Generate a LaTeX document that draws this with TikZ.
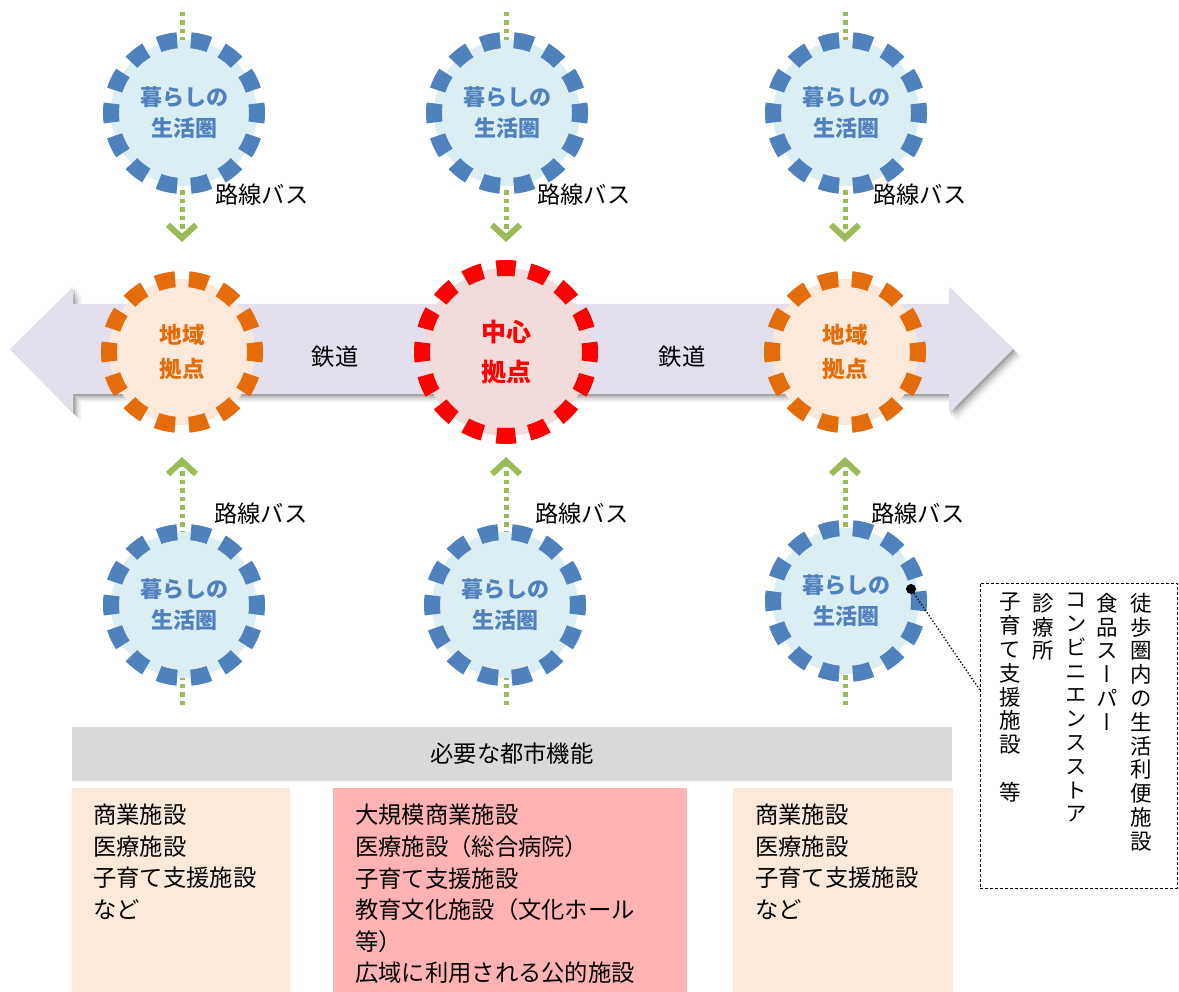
\documentclass[tikz,border=0pt]{standalone}
\usepackage{fontspec}
\setmainfont{Noto Sans CJK JP}
\newfontfamily\vjp[RawFeature=+vert]{Noto Sans CJK JP}
\usetikzlibrary{arrows.meta,calc}
\pgfdeclarelayer{back}
\pgfdeclarelayer{mid}
\pgfsetlayers{back,mid,main}
\definecolor{lifeblue}{HTML}{4F81BD}
\definecolor{lifefill}{HTML}{DAEEF3}
\definecolor{huborange}{HTML}{E46C0A}
\definecolor{hubfill}{HTML}{FDE9D9}
\definecolor{corered}{HTML}{FF0000}
\definecolor{corefill}{HTML}{F2DCDB}
\definecolor{railfill}{HTML}{E4DFEC}
\definecolor{busgreen}{HTML}{9BBB59}
\definecolor{barfill}{HTML}{D9D9D9}
\definecolor{corebox}{HTML}{FFB3B3}
\begin{document}
\begin{tikzpicture}[x=1pt,y=-1pt,
  ring/.style={circle, inner sep=0pt, line width=16pt, align=center},
  lifering/.style={ring, minimum size=146pt, draw=lifeblue, fill=lifefill, text=lifeblue,
    dash pattern=on 19pt off 13.76pt, dash phase=9.5pt, font=\bfseries\fontsize{22}{31}\selectfont},
  hubring/.style={ring, minimum size=146pt, draw=huborange, fill=hubfill, text=huborange,
    dash pattern=on 19pt off 13.76pt, dash phase=9.5pt, font=\bfseries\fontsize{22.5}{34}\selectfont},
  corering/.style={ring, minimum size=168pt, draw=corered, fill=corefill, text=corered,
    dash pattern=on 19pt off 13.99pt, dash phase=9.5pt, font=\bfseries\fontsize{25}{40}\selectfont},
  tagtext/.style={inner sep=0pt, font=\fontsize{23.3}{31}\selectfont},
  busline/.style={draw=busgreen, line width=5pt, dash pattern=on 4.5pt off 4pt,
    -{Straight Barb[length=13pt,width=28pt,line width=6pt]}},
  facbox/.style={rectangle, inner sep=0pt, anchor=north west},
  factext/.style={inner sep=0pt, anchor=north west, align=left, font=\fontsize{23.3}{31.6}\selectfont},
  vcol/.style={inner sep=0pt, anchor=north, align=center, font=\vjp\fontsize{21.5}{23.8}\selectfont}
]
\useasboundingbox (0,0) rectangle (1179,992);

% railway double arrow with soft shadow
\begin{pgfonlayer}{back}
\foreach \o/\op in {8/0.05,6/0.08,4/0.12,2/0.16}{
  \begin{scope}[shift={(\o,\o)}]
    \fill[black,opacity=\op] (10,349) -- (73,287) -- (73,304) -- (949,304) -- (949,287) -- (1013,349)
      -- (949,413) -- (949,394) -- (73,394) -- (73,413) -- cycle;
  \end{scope}}
\fill[railfill] (10,349) -- (73,287) -- (73,304) -- (949,304) -- (949,287) -- (1013,349)
  -- (949,413) -- (949,394) -- (73,394) -- (73,413) -- cycle;
\end{pgfonlayer}

% circles
\node[lifering] (lifeTL) at (184,113) {暮らしの\\生活圏};
\node[lifering] (lifeTM) at (507,113) {暮らしの\\生活圏};
\node[lifering] (lifeTR) at (846,113) {暮らしの\\生活圏};
\node[hubring] (hubL) at (182,352) {地域\\拠点};
\node[corering] (core) at (506,352) {中心\\拠点};
\node[hubring] (hubR) at (845,352) {地域\\拠点};
\node[lifering] (lifeBL) at (184,605) {暮らしの\\生活圏};
\node[lifering] (lifeBM) at (505,605) {暮らしの\\生活圏};
\node[lifering] (lifeBR) at (846,601) {暮らしの\\生活圏};

% bus connectors
\coordinate (srcTL) at (182,12);
\coordinate (srcTM) at (506,12);
\coordinate (srcTR) at (845,12);
\coordinate (srcBL) at (182,705);
\coordinate (srcBM) at (506,705);
\coordinate (srcBR) at (845,705);
\begin{pgfonlayer}{mid}
\draw[busline, shorten >=29pt] (srcTL) -- (hubL);
\draw[busline, shorten >=18pt] (srcTM) -- (core);
\draw[busline, shorten >=29pt] (srcTR) -- (hubR);
\draw[busline, shorten >=24pt] (srcBL) -- (hubL);
\draw[busline, shorten >=13pt] (srcBM) -- (core);
\draw[busline, shorten >=24pt] (srcBR) -- (hubR);
\end{pgfonlayer}

% labels
\node[tagtext, anchor=west] (busTL) at (215,195) {路線バス};
\node[tagtext, anchor=west] (busTM) at (537,195) {路線バス};
\node[tagtext, anchor=west] (busTR) at (873,195) {路線バス};
\node[tagtext, anchor=west] (busBL) at (214,514) {路線バス};
\node[tagtext, anchor=west] (busBM) at (535,514) {路線バス};
\node[tagtext, anchor=west] (busBR) at (871,514) {路線バス};
\node[tagtext] (railA) at (335,357) {鉄道};
\node[tagtext] (railB) at (682,357) {鉄道};

% required functions
\node[rectangle, fill=barfill, minimum width=880pt, minimum height=54pt, inner sep=0pt,
  font=\fontsize{23.3}{31}\selectfont] (need) at (512,754) {必要な都市機能};
\node[facbox, fill=hubfill, minimum width=218pt, minimum height=204pt] (boxL) at (72,788) {};
\node[facbox, fill=corebox, minimum width=354pt, minimum height=204pt] (boxM) at (333,788) {};
\node[facbox, fill=hubfill, minimum width=220pt, minimum height=204pt] (boxR) at (733,788) {};
\node[factext] (txtL) at ($(boxL.north west)+(21,16)$) {商業施設\\医療施設\\子育て支援施設\\など};
\node[factext] (txtM) at ($(boxM.north west)+(22,16)$) {大規模商業施設\\医療施設（総合病院）\\子育て支援施設\\教育文化施設（文化ホール\\等）\\広域に利用される公的施設};
\node[factext] (txtR) at ($(boxR.north west)+(22,16)$) {商業施設\\医療施設\\子育て支援施設\\など};

% callout box with vertical text
\node[draw=black, line width=0.9pt, dash pattern=on 3pt off 2pt, rectangle, inner sep=0pt,
  minimum width=197pt, minimum height=305pt] (vbox) at (1078.5,735.5) {};
\node[vcol] (colA) at (1141,593) {徒\\歩\\圏\\内\\の\\生\\活\\利\\便\\施\\設};
\node[vcol] (colB) at (1107,593) {食\\品\\ス\\ー\\パ\\ー};
\node[vcol] (colC) at (1076,593) {コ\\ン\\ビ\\ニ\\エ\\ン\\ス\\ス\\ト\\ア};
\node[vcol] (colD) at (1043,593) {診\\療\\所};
\node[vcol] (colE) at (1010,593) {子\\育\\て\\支\\援\\施\\設\\　\\等};
\node[circle, fill=black, minimum size=10pt, inner sep=0pt] (dot) at (911,589) {};
\coordinate (vin) at ($(vbox.north west)!0.35!(vbox.south west)$);
\draw[black, line width=1.3pt, dotted] (dot) -- (vin);
\end{tikzpicture}
\end{document}
